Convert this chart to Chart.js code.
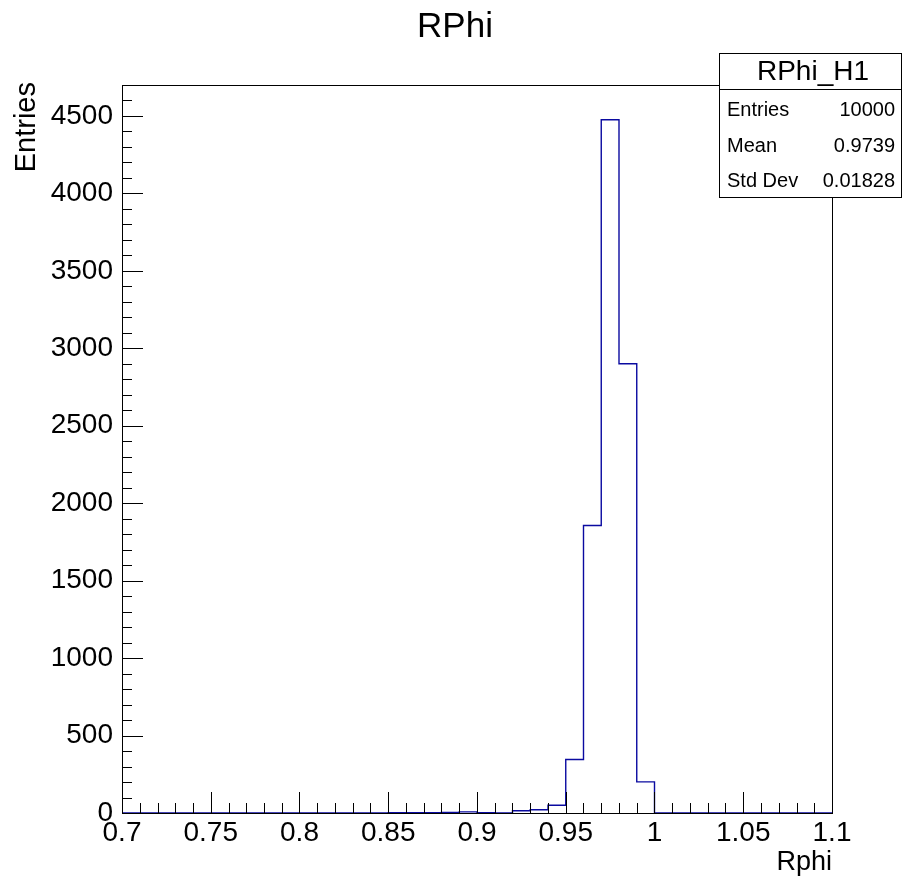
<!DOCTYPE html>
<html>
<head>
<meta charset="utf-8">
<script src="https://cdn.jsdelivr.net/npm/chart.js@4/dist/chart.umd.min.js"></script>
<style>
  html, body { margin: 0; padding: 0; background: #fff; }
  canvas { display: block; }
</style>
</head>
<body>
<canvas id="rphiChart" width="902" height="877"></canvas>
<script>
// histogram: 40 bins of 0.01 from 0.70 to 1.10 (left edges)
const binEdges = [0.70, 0.71, 0.72, 0.73, 0.74, 0.75, 0.76, 0.77, 0.78, 0.79,
                  0.80, 0.81, 0.82, 0.83, 0.84, 0.85, 0.86, 0.87, 0.88, 0.89,
                  0.90, 0.91, 0.92, 0.93, 0.94, 0.95, 0.96, 0.97, 0.98, 0.99,
                  1.00, 1.01, 1.02, 1.03, 1.04, 1.05, 1.06, 1.07, 1.08, 1.09, 1.10];
const binCounts = [0, 0, 0, 0, 0, 0, 0, 0, 0, 0,
                   0, 1, 0, 1, 1, 2, 2, 2, 4, 7,
                   2, 1, 15, 21, 50, 345, 1856, 4476, 2900, 201,
                   0, 0, 0, 0, 0, 0, 0, 0, 0, 0];

const xTickValues = [0.7, 0.75, 0.8, 0.85, 0.9, 0.95, 1.0, 1.05, 1.1];
const xTickLabels = ['0.7', '0.75', '0.8', '0.85', '0.9', '0.95', '1', '1.05', '1.1'];
const yTickValues = [0, 500, 1000, 1500, 2000, 2500, 3000, 3500, 4000, 4500];

const statsTitle = 'RPhi_H1';
const statsNames = ['Entries', 'Mean', 'Std Dev'];
const statsValues = ['10000', '0.9739', '0.01828'];

const FONT = '"Liberation Sans", Arial, Helvetica, sans-serif';

function buildSteps() {
    const pts = [];
    for (let i = 0; i < binCounts.length; i++) {
        pts.push({ x: binEdges[i], y: binCounts[i] });
    }
    // close the last bin at the right edge
    pts.push({ x: binEdges[binEdges.length - 1], y: binCounts[binCounts.length - 1] });
    return pts;
}

// ROOT style frame, inner ticks, titles and the stats box
const rootDecor = {
    id: 'rootDecor',
    afterDraw(chart) {
        const ctx = chart.ctx;
        const area = chart.chartArea;
        const xs = chart.scales.x;
        const ys = chart.scales.y;

        ctx.save();
        ctx.strokeStyle = '#000';
        ctx.lineWidth = 1;

        // frame
        ctx.strokeRect(Math.round(area.left) + 0.5, Math.round(area.top) + 0.5,
            Math.round(area.right - area.left), Math.round(area.bottom - area.top));

        // x ticks, minor every 0.01, major every 0.05
        ctx.beginPath();
        for (let i = 0; i <= 40; i++) {
            const px = Math.round(xs.getPixelForValue(0.7 + i * 0.01)) + 0.5;
            const len = (i % 5 === 0) ? 21 : 10;
            ctx.moveTo(px, area.bottom);
            ctx.lineTo(px, area.bottom - len);
        }
        // y ticks, minor every 100, major every 500
        for (let v = 0; v <= ys.max; v += 100) {
            const py = Math.round(ys.getPixelForValue(v)) + 0.5;
            const len = (v % 500 === 0) ? 21 : 10;
            ctx.moveTo(area.left, py);
            ctx.lineTo(area.left + len, py);
        }
        ctx.stroke();

        ctx.fillStyle = '#000';

        // main title
        ctx.font = '35px ' + FONT;
        ctx.textAlign = 'center';
        ctx.textBaseline = 'alphabetic';
        ctx.fillText('RPhi', 455, 37);

        // x axis title
        ctx.font = '27px ' + FONT;
        ctx.textAlign = 'right';
        ctx.fillText('Rphi', area.right, 870);

        // y axis title
        ctx.save();
        ctx.translate(35, area.top - 3);
        ctx.rotate(-Math.PI / 2);
        ctx.font = '29px ' + FONT;
        ctx.textAlign = 'right';
        ctx.fillText('Entries', 0, 0);
        ctx.restore();

        // stats box
        const bx = 719.5, by = 53.5, bw = 182, bh = 144;
        ctx.fillStyle = '#fff';
        ctx.fillRect(bx, by, bw, bh);
        ctx.strokeRect(bx, by, bw, bh);
        ctx.beginPath();
        ctx.moveTo(bx, 89.5);
        ctx.lineTo(bx + bw, 89.5);
        ctx.stroke();

        ctx.fillStyle = '#000';
        ctx.font = '28px ' + FONT;
        ctx.textAlign = 'center';
        ctx.fillText(statsTitle, 813, 80);

        ctx.font = '20px ' + FONT;
        const rowY = [116, 152, 187];
        statsNames.forEach((name, i) => {
            ctx.textAlign = 'left';
            ctx.fillText(name, 727, rowY[i]);
            ctx.textAlign = 'right';
            ctx.fillText(statsValues[i], 895, rowY[i]);
        });

        ctx.restore();
    }
};

document.addEventListener('DOMContentLoaded', function() {
    const ctx = document.getElementById('rphiChart').getContext('2d');
    new Chart(ctx, {
        type: 'line',
        data: {
            datasets: [{
                label: 'RPhi',
                data: buildSteps(),
                stepped: true,
                borderColor: '#0a0aa0',
                borderWidth: 1.4,
                pointRadius: 0,
                fill: false,
            }]
        },
        options: {
            responsive: false,
            animation: false,
            devicePixelRatio: 1,
            layout: {
                padding: { left: 0, top: 85, right: 70, bottom: 0 }
            },
            plugins: {
                legend: { display: false },
                tooltip: { enabled: false },
                title: { display: false },
            },
            scales: {
                x: {
                    type: 'linear',
                    min: 0.7,
                    max: 1.1,
                    afterBuildTicks: function(scale) {
                        scale.ticks = xTickValues.map(v => ({ value: v }));
                    },
                    afterFit: function(scale) {
                        scale.height = 64;
                    },
                    ticks: {
                        autoSkip: false,
                        maxRotation: 0,
                        padding: 3,
                        color: '#000',
                        font: { family: FONT, size: 28 },
                        callback: function(value) {
                            const idx = xTickValues.findIndex(v => Math.abs(v - value) < 1e-9);
                            return idx >= 0 ? xTickLabels[idx] : '';
                        }
                    },
                    grid: { display: false, drawTicks: false },
                    border: { display: false },
                },
                y: {
                    type: 'linear',
                    min: 0,
                    max: 4700,
                    afterBuildTicks: function(scale) {
                        scale.ticks = yTickValues.map(v => ({ value: v }));
                    },
                    afterFit: function(scale) {
                        scale.width = 122;
                    },
                    ticks: {
                        padding: 9,
                        color: '#000',
                        font: { family: FONT, size: 28 },
                        callback: function(value) {
                            return String(value);
                        }
                    },
                    grid: { display: false, drawTicks: false },
                    border: { display: false },
                }
            }
        },
        plugins: [rootDecor]
    });
});
</script>
</body>
</html>
